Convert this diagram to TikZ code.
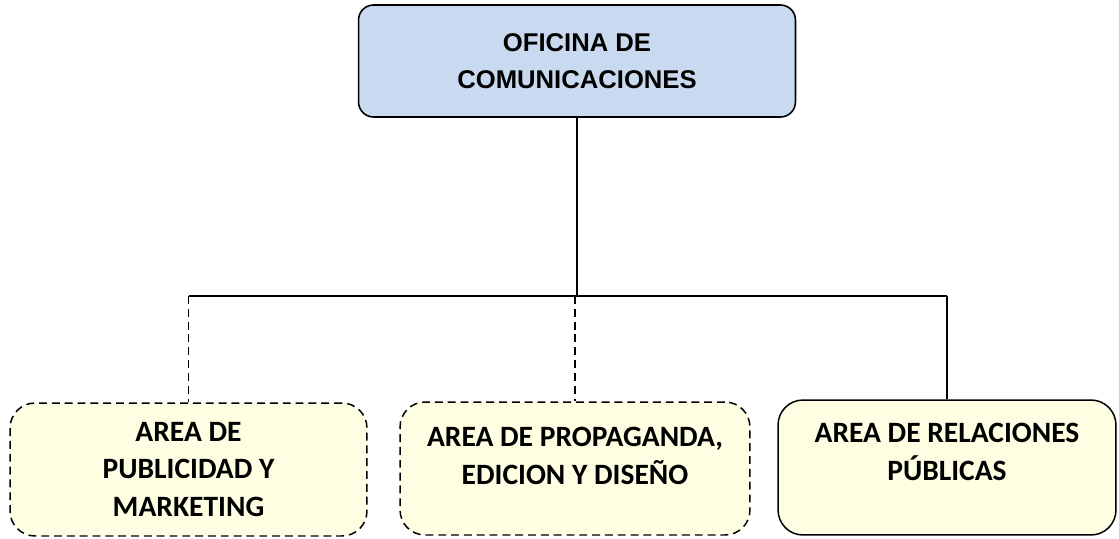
\documentclass[tikz,border=0pt]{standalone}
\usepackage{fontspec}
\setmainfont{Carlito}
\newfontfamily\arialfont{Liberation Sans}
\usetikzlibrary{calc, positioning}
\definecolor{cabeza}{HTML}{C9DAF0}
\definecolor{areafill}{HTML}{FEFEE2}

\begin{document}
\begin{tikzpicture}[x=0.02cm, y=-0.02cm,
    jefe/.style={rectangle, draw=black, line width=0.9pt, fill=cabeza, rounded corners=3mm, minimum width=8.74cm, minimum height=2.24cm, align=center, font=\arialfont\fontsize{14.6}{21}\selectfont\bfseries},
    area/.style={rectangle, draw=black, line width=0.85pt, fill=areafill, rounded corners=5mm, minimum height=2.66cm, align=center, font=\fontsize{16.8}{21.5}\selectfont\bfseries},
    trazo/.style={dash pattern=on 4.5pt off 2.8pt},
    linea/.style={line width=0.85pt}
]
\useasboundingbox (0,0) rectangle (1119,538);
\node[jefe] (ofi) at (577,61) {OFICINA DE\\COMUNICACIONES};
\node[area, trazo, minimum width=7.14cm] (pub) at (188.5,469.5) {AREA DE\\PUBLICIDAD Y\\MARKETING};
\node[area, trazo, minimum width=7.0cm] (pro) at (575,468.5) {AREA DE PROPAGANDA,\\EDICION Y DISEÑO\\[-7pt]\mbox{}};
\node[area, minimum width=6.76cm, minimum height=2.7cm] (rel) at (947,467.5) {AREA DE RELACIONES\\PÚBLICAS\\[-4pt]\mbox{}};
\coordinate (bus) at (577,296);
\draw[linea] (ofi.south) -- (bus);
\draw[linea] (pub.north |- bus) -- (rel.north |- bus);
\draw[linea, trazo] (pub.north |- bus) -- (pub.north);
\draw[linea, trazo] (pro.north |- bus) -- (pro.north);
\draw[linea] (rel.north |- bus) -- (rel.north);
\end{tikzpicture}
\end{document}
